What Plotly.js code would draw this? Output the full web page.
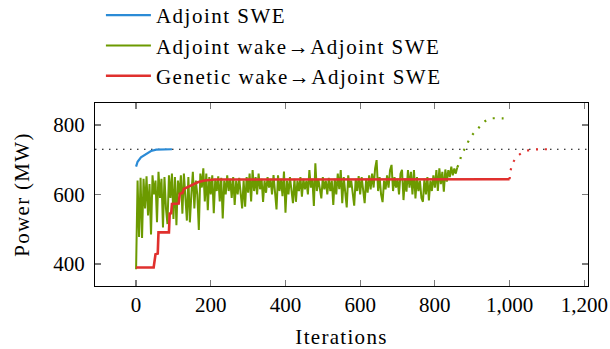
<!DOCTYPE html>
<html><head><meta charset="utf-8">
<script src="https://cdn.plot.ly/plotly-3.0.1.min.js"></script>
<style>
html,body{margin:0;padding:0;background:#fff;}
#chart{width:610px;height:349px;}
#chart svg text{font-family:"Liberation Serif","Times New Roman","DejaVu Serif",serif !important;}
.legendtext{letter-spacing:1.5px;}
.xtitle,.ytitle{letter-spacing:1.3px;}
</style></head><body><div id="chart"></div>
<script>
// ---- data ----
const seriesNames = ['Adjoint SWE', 'Adjoint wake\u2192Adjoint SWE', 'Genetic wake\u2192Adjoint SWE'];
const refLevel = 730;

const blueX = [0, 4, 13, 27, 40, 54, 70, 96];
const blueY = [680, 694, 707, 716, 725, 729, 730, 730];

const greenStep = 4;
const greenY = [
  385,640,478,648,475,645,560,652,540,630,485,655,600,640,520,665,590,645,505,650,560,515,655,590,660,530,
  650,512,640,600,655,545,660,590,525,650,520,600,665,560,640,600,498,660,620,675,580,660,555,650,600,
  655,546,645,610,652,580,648,531,640,600,655,610,645,590,650,570,640,600,648,610,560,640,565,650,605,
  660,580,670,610,650,600,660,615,645,579,640,605,650,620,645,600,656,590,557,655,610,645,595,666,548,
  640,600,650,615,575,645,579,640,610,650,594,645,615,640,600,670,620,645,567,690,610,645,620,589,650,
  615,640,600,648,610,640,570,645,600,660,615,670,575,650,610,563,655,620,640,605,568,645,610,653,600,
  650,620,575,645,605,655,615,660,620,675,699,610,650,600,578,640,615,655,620,670,685,610,650,620,645,
  600,660,671,584,645,608,670,620,665,600,670,589,650,610,640,590,579,645,600,650,583,640,610,655,620,
  670,610,675,630,665,608,672,637,670,650,680,655,675,660,678
];
const greenDotX = [860, 866, 872, 882, 891, 903, 916, 930, 948, 970, 992];
const greenDotY = [678, 693, 716, 735, 755, 775, 790, 807, 818, 819, 819];

const redX = [0, 47, 52, 58, 60, 88, 90, 94, 96, 114, 117, 124, 128, 140, 150, 165, 183, 210, 1000];
const redY = [390, 390, 428, 430, 491, 491, 545, 546, 573, 574, 602, 604, 616, 622, 627, 635, 640, 643, 644];
const redDotX = [1000, 1003, 1009, 1021, 1038, 1058, 1080, 1100];
const redDotY = [644, 670, 691, 710, 722, 729, 730, 730];

const xTicks = [0, 200, 400, 600, 800, 1000, 1200];
const yTicks = [400, 600, 800];

// ---- styles ----
const cBlue = '#2b8bd6', cGreen = '#6c9a00', cRed = '#e0302e';
const serif = 'Liberation Serif';
const greenX = greenY.map((_, i) => i * greenStep);

const traces = [
  {x: blueX, y: blueY, mode: 'lines', name: seriesNames[0], line: {color: cBlue, width: 2.2}},
  {x: greenX, y: greenY, mode: 'lines', name: seriesNames[1], line: {color: cGreen, width: 2}},
  {x: greenDotX, y: greenDotY, mode: 'lines', showlegend: false, line: {color: cGreen, width: 2.2, dash: '2px,7px', shape: 'spline'}},
  {x: redX, y: redY, mode: 'lines', name: seriesNames[2], line: {color: cRed, width: 2.6}},
  {x: redDotX, y: redDotY, mode: 'lines', showlegend: false, line: {color: cRed, width: 2.2, dash: '2px,7px', shape: 'spline'}}
];

const axisCommon = {
  ticks: 'inside', ticklen: 6, tickwidth: 1.2, tickcolor: '#7a7a7a',
  showline: true, linecolor: '#000', linewidth: 1, mirror: 'allticks',
  showgrid: false, zeroline: false, automargin: false, ticklabeloverflow: 'allow',
  tickfont: {family: serif, size: 21, color: '#000'}
};

const layout = {
  width: 610, height: 349,
  margin: {l: 95, r: 22, t: 103, b: 63, pad: 0, autoexpand: false},
  paper_bgcolor: '#fff', plot_bgcolor: '#fff',
  font: {family: serif, size: 21, color: '#000'},
  showlegend: true,
  legend: {x: 0.012, y: 1.59, xanchor: 'left', yanchor: 'top', bgcolor: 'rgba(0,0,0,0)',
           borderwidth: 0, itemwidth: 45, tracegroupgap: 0,
           font: {family: serif, size: 21, color: '#000'}},
  xaxis: Object.assign({}, axisCommon, {
    range: [-110, 1210], tickmode: 'array', tickvals: xTicks, tickformat: ',',
    ticklabelstandoff: 0,
    title: {text: 'Iterations', font: {family: serif, size: 21, color: '#000'}, standoff: 32}
  }),
  yaxis: Object.assign({}, axisCommon, {
    range: [337, 863], tickmode: 'array', tickvals: yTicks,
    ticklabelstandoff: 5,
    title: {text: 'Power (MW)', font: {family: serif, size: 21, color: '#000'}, standoff: 17}
  }),
  shapes: [{type: 'line', xref: 'paper', x0: 0, x1: 1, yref: 'y', y0: refLevel, y1: refLevel,
            layer: 'below', line: {color: '#000', width: 1.2, dash: '1.5px,5.5px'}}]
};

Plotly.newPlot('chart', traces, layout, {displayModeBar: false, staticPlot: true});
</script></body></html>
